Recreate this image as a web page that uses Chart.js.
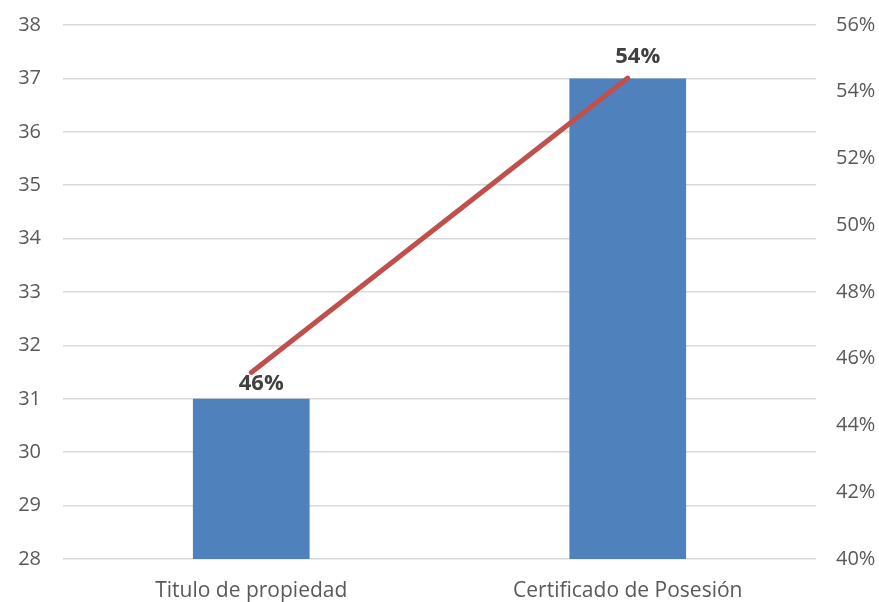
<!DOCTYPE html>
<html>
<head>
<meta charset="utf-8">
<script src="https://cdn.jsdelivr.net/npm/chart.js@4"></script>
<style>
  html, body { margin: 0; padding: 0; background: #fff; }
  #wrap { width: 879px; height: 602px; }
</style>
</head>
<body>
<div id="wrap"><canvas id="grafico"></canvas></div>
<script>
// datos
const categorias = ['Titulo de propiedad', 'Certificado de Posesión'];
const cantidades = [31, 37];
const porcentajes = [0.4559, 0.5441];
const etiquetasPct = ['46%', '54%'];

const fuente = '"Open Sans", "Noto Sans", sans-serif';

// etiquetas de la linea (46% debajo del punto, 54% encima, como en el original)
const etiquetasLinea = {
  id: 'etiquetasLinea',
  afterDatasetsDraw(chart) {
    const ctx = chart.ctx;
    const meta = chart.getDatasetMeta(1);
    const desplaz = [11, -21];
    ctx.save();
    ctx.font = 'bold 22px ' + fuente;
    ctx.fillStyle = '#404040';
    ctx.textAlign = 'center';
    ctx.textBaseline = 'middle';
    meta.data.forEach(function (p, i) {
      ctx.fillText(etiquetasPct[i], p.x + 10, p.y + desplaz[i]);
    });
    ctx.restore();
  }
};

function sinRelleno(s) {
  s.paddingTop = 0;
  s.paddingBottom = 0;
  s.paddingLeft = 0;
  s.paddingRight = 0;
}

const grafico = document.getElementById('grafico');

new Chart(grafico, {
  type: 'bar',
  data: {
    labels: categorias,
    datasets: [{
      type: 'bar',
      label: 'Cantidad',
      data: cantidades,
      yAxisID: 'y',
      backgroundColor: '#4F81BD',
      categoryPercentage: 0.31,
      barPercentage: 1,
      order: 1
    }, {
      type: 'line',
      label: 'Porcentaje',
      data: porcentajes,
      yAxisID: 'y1',
      borderColor: '#C0504D',
      borderWidth: 5,
      borderCapStyle: 'round',
      pointRadius: 0,
      tension: 0,
      order: 0
    }]
  },
  options: {
    responsive: true,
    maintainAspectRatio: false,
    animation: false,
    layout: { padding: { top: 25, left: 0, right: 0, bottom: 0 } },
    plugins: {
      legend: { display: false },
      tooltip: { enabled: false }
    },
    scales: {
      x: {
        grid: { display: false },
        border: { display: false },
        ticks: { color: '#595959', font: { family: fuente, size: 21 }, padding: 11 },
        afterFit(s) { s.height = 43; sinRelleno(s); }
      },
      y: {
        position: 'left',
        min: 28,
        max: 38,
        ticks: { stepSize: 1, color: '#595959', font: { family: fuente, size: 20 }, padding: 22 },
        grid: { color: '#D9D9D9', lineWidth: 1.5, drawTicks: false },
        border: { display: false },
        afterFit(s) { s.width = 63; sinRelleno(s); }
      },
      y1: {
        position: 'right',
        min: 0.40,
        max: 0.56,
        ticks: {
          stepSize: 0.02,
          color: '#595959',
          font: { family: fuente, size: 20 },
          padding: 20,
          callback: function (v) { return Math.round(v * 100) + '%'; }
        },
        grid: { display: false, drawTicks: false },
        border: { display: false },
        afterFit(s) { s.width = 63; sinRelleno(s); }
      }
    }
  },
  plugins: [etiquetasLinea]
});
</script>
</body>
</html>
